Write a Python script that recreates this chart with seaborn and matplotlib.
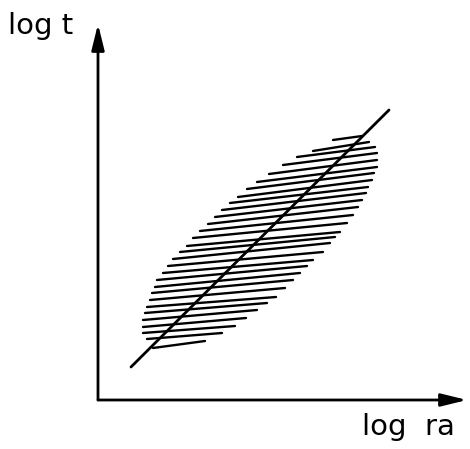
import pandas as pd
import numpy as np
import seaborn as sns
import matplotlib.pyplot as plt

# hatch strokes inside the leaf shaped band (pixel-like units, y downwards)
hatch_x_left = [333, 313, 297, 283, 269, 257, 247, 238, 230, 222, 215, 208, 200, 193, 187,
                180, 173, 168, 163, 157, 155, 152, 150, 147, 145, 143, 143, 143, 147, 153]
hatch_x_right = [362, 369, 375, 377, 377, 377, 374, 372, 368, 366, 362, 358, 353, 347, 340,
                 335, 330, 323, 313, 307, 300, 293, 285, 276, 267, 257, 246, 235, 222, 205]
hatch_y_left = [140, 151, 157, 165, 174, 182, 189, 197, 203, 210, 217, 224, 231, 238, 246,
                252, 259, 266, 273, 280, 287, 293, 300, 307, 313, 320, 327, 333, 339, 348]
hatch_y_right = [136, 142, 147, 153, 160, 167, 173, 180, 187, 193, 200, 207, 215, 223, 232,
                 237, 243, 252, 260, 266, 273, 280, 288, 297, 303, 310, 318, 326, 333, 341]

# regression line through the band
line_x = [131, 389]
line_y = [367, 110]

# axes of the sketch
origin = (98, 400)
x_tip = (467, 400)
y_tip = (98, 24)

sns.set_theme(style="white")
plt.rcParams['font.family'] = ['DejaVu Sans']

fig = plt.figure(figsize=(4.70, 4.49), dpi=100)
ax = fig.add_axes([0, 0, 1, 1])
ax.set_xlim(0, 470)
ax.set_ylim(449, 0)
ax.axis('off')

rows = []
for i in range(len(hatch_x_left)):
    rows.append({'x': hatch_x_left[i], 'y': hatch_y_left[i], 'id': i})
    rows.append({'x': hatch_x_right[i], 'y': hatch_y_right[i], 'id': i})
hatch = pd.DataFrame(rows)
sns.lineplot(data=hatch, x='x', y='y', units='id', estimator=None, sort=False,
             color='black', lw=1.7, ax=ax, legend=False)

diag = pd.DataFrame({'x': line_x, 'y': line_y})
sns.lineplot(data=diag, x='x', y='y', color='black', lw=2.0, ax=ax, sort=False)

arrow = dict(arrowstyle='-|>,head_length=1.3,head_width=0.32', color='black', lw=2.0,
             shrinkA=0, shrinkB=0)
ax.annotate('', xy=x_tip, xytext=origin, arrowprops=arrow)
ax.annotate('', xy=y_tip, xytext=origin, arrowprops=arrow)

ax.text(8, 34, 'log t', fontsize=21, color='black', ha='left', va='baseline')
ax.text(362, 435, 'log  ra', fontsize=21, color='black', ha='left', va='baseline')

ax.set_xlabel('')
ax.set_ylabel('')
plt.savefig('out.png', dpi=100, facecolor='white')
